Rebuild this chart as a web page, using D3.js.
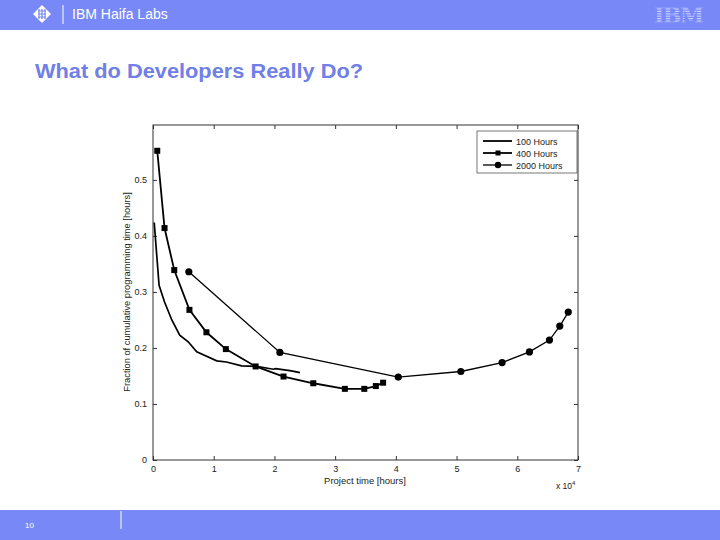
<!DOCTYPE html>
<html><head><meta charset="utf-8">
<script src="https://cdn.jsdelivr.net/npm/d3@7"></script>
<style>body{margin:0;background:#fff}svg{display:block;font-family:"Liberation Sans",Arial,sans-serif}</style>
</head><body>
<svg id="c" width="720" height="540"></svg>
<script>
const title = "What do Developers Really Do?";
const header = "IBM Haifa Labs";
const pageNumber = "10";
const xLabel = "Project  time [hours]";
const yLabel = "Fraction of cumulative programming time [hours]";
const xTicks = [0,1,2,3,4,5,6,7];
const yTicks = [0,0.1,0.2,0.3,0.4,0.5];
const seriesNames = ["100 Hours","400 Hours","2000 Hours"];

// x in units of 10^4 hours
const h100x = [0.02,0.10,0.19,0.31,0.44,0.58,0.72,1.05,1.21,1.46,1.71,1.98,2.02,2.28,2.42];
const h100y = [0.424,0.312,0.282,0.250,0.223,0.211,0.193,0.177,0.175,0.168,0.167,0.162,0.163,0.159,0.156];
const h400x = [0.07,0.19,0.35,0.60,0.88,1.20,1.69,2.15,2.64,3.16,3.48,3.67,3.79];
const h400y = [0.552,0.414,0.339,0.268,0.228,0.198,0.167,0.149,0.137,0.127,0.127,0.132,0.138];
const h2000x = [0.59,2.09,4.04,5.07,5.75,6.20,6.53,6.70,6.84];
const h2000y = [0.336,0.192,0.148,0.158,0.174,0.193,0.214,0.239,0.264];

const svg = d3.select("#c");
const blue = "#7888f7";

// header & footer bands
svg.append("rect").attr("x",0).attr("y",0).attr("width",720).attr("height",30).attr("fill",blue);
svg.append("rect").attr("x",0).attr("y",510).attr("width",720).attr("height",30).attr("fill",blue);
// logo diamond
const lg = svg.append("g").attr("transform","translate(42,14)");
lg.append("path").attr("d","M0,-9 L9,0 L0,9 L-9,0Z").attr("fill","#fff");
lg.append("path").attr("d","M-4,-3h8M-4,0h8M-4,3h8M-3,-5v10M0,-5v10M3,-5v10").attr("stroke",blue).attr("stroke-width",1.2);
svg.append("line").attr("x1",63).attr("x2",63).attr("y1",5).attr("y2",24).attr("stroke","#fff").attr("stroke-width",1);
svg.append("text").attr("x",72).attr("y",19).attr("fill","#fff").attr("font-size",14).text(header);
// IBM logo
svg.append("text").attr("x",679).attr("y",23).attr("text-anchor","middle").attr("fill","#c8d0ff")
  .attr("font-size",22).attr("font-weight","bold").attr("font-family","'DejaVu Serif',serif").attr("textLength",50).text("IBM");
for(let i=0;i<8;i++) svg.append("rect").attr("x",652).attr("y",6+i*2.4+1.2).attr("width",54).attr("height",1.2).attr("fill",blue);
// footer
svg.append("text").attr("x",25).attr("y",528).attr("fill","#fff").attr("font-size",8).text(pageNumber);
svg.append("line").attr("x1",121).attr("x2",121).attr("y1",511).attr("y2",529).attr("stroke","#fff");
// title
svg.append("text").attr("x",35).attr("y",78).attr("fill","#7080e6").attr("font-size",19.5).attr("font-weight","bold")
  .attr("textLength",328).attr("lengthAdjust","spacingAndGlyphs").text(title);

// chart
const x = d3.scaleLinear().domain([0,7]).range([153,578]);
const y = d3.scaleLinear().domain([0,0.598]).range([460,125]);
const g = svg.append("g");
g.append("rect").attr("x",153).attr("y",125).attr("width",425).attr("height",335).attr("fill","none").attr("stroke","#333").attr("stroke-width",1);

const ax = d3.axisBottom(x).tickValues(xTicks).tickSize(-4).tickPadding(6).tickFormat(d3.format("d"));
const gx = g.append("g").attr("transform","translate(0,460)").call(ax);
const axT = d3.axisTop(x).tickValues(xTicks).tickSize(-4).tickFormat("");
const gxt = g.append("g").attr("transform","translate(0,125)").call(axT);
const ay = d3.axisLeft(y).tickValues(yTicks).tickSize(-4).tickPadding(6).tickFormat(d=>d===0?"0":d3.format(".1f")(d));
const gy = g.append("g").attr("transform","translate(153,0)").call(ay);
const ayR = d3.axisRight(y).tickValues(yTicks).tickSize(-4).tickFormat("");
const gyr = g.append("g").attr("transform","translate(578,0)").call(ayR);
[gx,gxt,gy,gyr].forEach(a=>{a.select(".domain").remove();a.selectAll("line").attr("stroke","#333");a.selectAll("text").attr("font-size",9).attr("fill","#222").attr("font-family","'Liberation Sans',Arial,sans-serif");});

g.append("text").attr("x",365).attr("y",484).attr("text-anchor","middle").attr("font-size",9.5).attr("fill","#222").text(xLabel);
g.append("text").attr("transform","translate(130,292) rotate(-90)").attr("text-anchor","middle").attr("font-size",9.3).attr("fill","#222").text(yLabel);
const xe = g.append("text").attr("x",556).attr("y",489).attr("font-size",8.5).attr("fill","#222");
xe.append("tspan").text("x 10");
xe.append("tspan").attr("dy",-4).attr("font-size",6).text("4");

const line = d3.line().x(d=>x(d[0])).y(d=>y(d[1]));
const s100 = h100x.map((v,i)=>[v,h100y[i]]);
const s400 = h400x.map((v,i)=>[v,h400y[i]]);
const s2000 = h2000x.map((v,i)=>[v,h2000y[i]]);
g.append("path").datum(s100).attr("d",line).attr("fill","none").attr("stroke","#000").attr("stroke-width",1.7);
g.append("path").datum(s400).attr("d",line).attr("fill","none").attr("stroke","#000").attr("stroke-width",1.8);
g.append("path").datum(s2000).attr("d",line).attr("fill","none").attr("stroke","#000").attr("stroke-width",1.3);
g.selectAll(".sq").data(s400).join("rect").attr("x",d=>x(d[0])-3).attr("y",d=>y(d[1])-3).attr("width",6).attr("height",6).attr("fill","#000");
g.selectAll(".ci").data(s2000).join("circle").attr("cx",d=>x(d[0])).attr("cy",d=>y(d[1])).attr("r",3.6).attr("fill","#000");

// legend
const lgd = g.append("g");
lgd.append("rect").attr("x",477).attr("y",131).attr("width",100).attr("height",42).attr("fill","#fff").attr("stroke","#555").attr("stroke-width",0.8);
seriesNames.forEach((n,i)=>{
  const yy = 141 + i*12;
  lgd.append("line").attr("x1",483).attr("x2",512).attr("y1",yy).attr("y2",yy).attr("stroke","#000").attr("stroke-width",i===2?1.3:1.8);
  if(i===1) lgd.append("rect").attr("x",495.5).attr("y",yy-2.5).attr("width",5).attr("height",5).attr("fill","#000");
  if(i===2) lgd.append("circle").attr("cx",498).attr("cy",yy).attr("r",3.2).attr("fill","#000");
  lgd.append("text").attr("x",516).attr("y",yy+3.5).attr("font-size",9).attr("fill","#222").text(n);
});
</script>
</body></html>
